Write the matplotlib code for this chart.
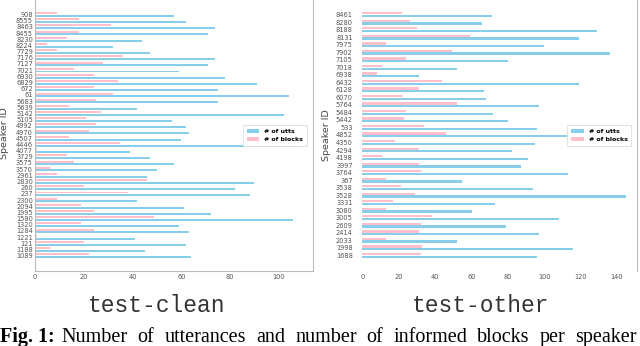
import matplotlib.pyplot as plt
import numpy as np

# speakers listed bottom -> top (string order, like the original index)
clean_speakers = ["1089", "1188", "121", "1221", "1284", "1320", "1580", "1995", "2094", "2300",
                  "237", "260", "2830", "2961", "3570", "3575", "3729", "4077", "4446", "4507",
                  "4970", "4992", "5105", "5142", "5639", "5683", "61", "672", "6829", "6930",
                  "7021", "7127", "7176", "7729", "8224", "8230", "8455", "8463", "8555", "908"]
clean_utts = [64, 45, 62, 41, 63, 59, 106, 72, 61, 42,
              88, 82, 90, 46, 50, 57, 47, 39, 108, 60,
              63, 62, 56, 102, 42, 75, 104, 75, 91, 78,
              59, 71, 74, 47, 32, 44, 71, 74, 62, 57]
clean_blocks = [22, 6, 20, 1, 24, 19, 49, 24, 19, 9,
                38, 20, 46, 9, 6, 16, 13, 1, 35, 14,
                22, 25, 21, 27, 14, 25, 32, 24, 34, 24,
                16, 28, 36, 9, 5, 13, 18, 31, 18, 9]

other_speakers = ["1688", "1998", "2033", "2414", "2609", "3005", "3080", "3331", "3528", "3538",
                  "367", "3764", "3997", "4198", "4294", "4350", "4852", "533", "5442", "5484",
                  "5764", "6070", "6128", "6432", "6938", "7018", "7105", "7902", "7975", "8131",
                  "8188", "8280", "8461"]
other_utts = [96, 116, 52, 97, 79, 108, 60, 73, 145, 94,
              55, 113, 87, 91, 82, 95, 113, 96, 80, 72,
              97, 68, 67, 119, 31, 52, 80, 136, 100, 119,
              129, 66, 71]
other_blocks = [32, 33, 13, 31, 32, 38, 13, 17, 29, 21,
                13, 32, 31, 11, 31, 18, 46, 34, 23, 24,
                52, 22, 31, 44, 8, 11, 24, 49, 13, 59,
                30, 26, 22]

caption_words = ["Number", "of", "utterances", "and", "number", "of", "informed",
                 "blocks", "per", "speaker"]

tick_color = "#555555"

fig = plt.figure(figsize=(6.4, 3.46), dpi=100)
ax1 = fig.add_axes([35 / 640, 75 / 346, 278 / 640, 271 / 346])
ax2 = fig.add_axes([362.4 / 640, 75 / 346, 274.6 / 640, 271 / 346])


def draw(ax, speakers, utts, blocks, off, h, xmax, ylim, xticks, ypad):
    y = np.arange(len(speakers))
    ax.barh(y - off, utts, height=h, color="skyblue", label="# of utts")
    ax.barh(y + off, blocks, height=h, color="pink", label="# of blocks")
    ax.set_xlim(0, xmax)
    ax.set_ylim(*ylim)
    ax.set_yticks(y)
    ax.set_yticklabels(speakers)
    ax.set_xticks(xticks)
    ax.tick_params(axis="y", length=0, pad=ypad, labelsize=4.8, labelcolor=tick_color)
    ax.tick_params(axis="x", length=0, pad=2.5, labelsize=4.8, labelcolor=tick_color)
    ax.set_ylabel("Speaker ID", fontsize=6.8, color="#444444")
    leg = ax.legend(loc="center right", bbox_to_anchor=(0.99, 0.5),
                    prop={"size": 4.5, "weight": "bold"}, fancybox=False,
                    edgecolor="#dddddd", framealpha=1, borderpad=0.6, handletextpad=0.8)
    leg.get_frame().set_linewidth(0.6)
    for s in ax.spines.values():
        s.set_color("#bbbbbb")
        s.set_linewidth(0.8)


draw(ax1, clean_speakers, clean_utts, clean_blocks, 0.22, 0.32, 114,
     (-2.47, 41.34), [0, 20, 40, 60, 80, 100], 1.5)
ax1.yaxis.set_label_coords(-0.094, 0.51)
ax1.spines["top"].set_visible(False)

draw(ax2, other_speakers, other_utts, other_blocks, 0.18, 0.3, 151,
     (-2.09, 33.95), [0, 20, 40, 60, 80, 100, 120, 140], 7)
ax2.yaxis.set_label_coords(-0.114, 0.5)
for side in ["left", "top", "bottom"]:
    ax2.spines[side].set_visible(False)

fig.text(157 / 640, 1 - 305 / 346, "test-clean", family="Liberation Mono", fontsize=16.5,
         color="#333333", ha="center", va="center")
fig.text(481 / 640, 1 - 305 / 346, "test-other", family="Liberation Mono", fontsize=16.5,
         color="#333333", ha="center", va="center")

# caption, laid out word by word (the paper's line is justified and runs off the crop)
renderer = fig.canvas.get_renderer()
t = fig.text(0.0, 4 / 346, "Fig. 1:", family="Liberation Serif", fontsize=14.5,
             fontweight="bold", va="baseline")
x = t.get_window_extent(renderer=renderer).x1 + 7
for w in caption_words:
    t = fig.text(x / 640, 4 / 346, w, family="Liberation Serif", fontsize=14.5, va="baseline")
    x = t.get_window_extent(renderer=renderer).x1 + 10

fig.savefig("out.png", dpi=100)
